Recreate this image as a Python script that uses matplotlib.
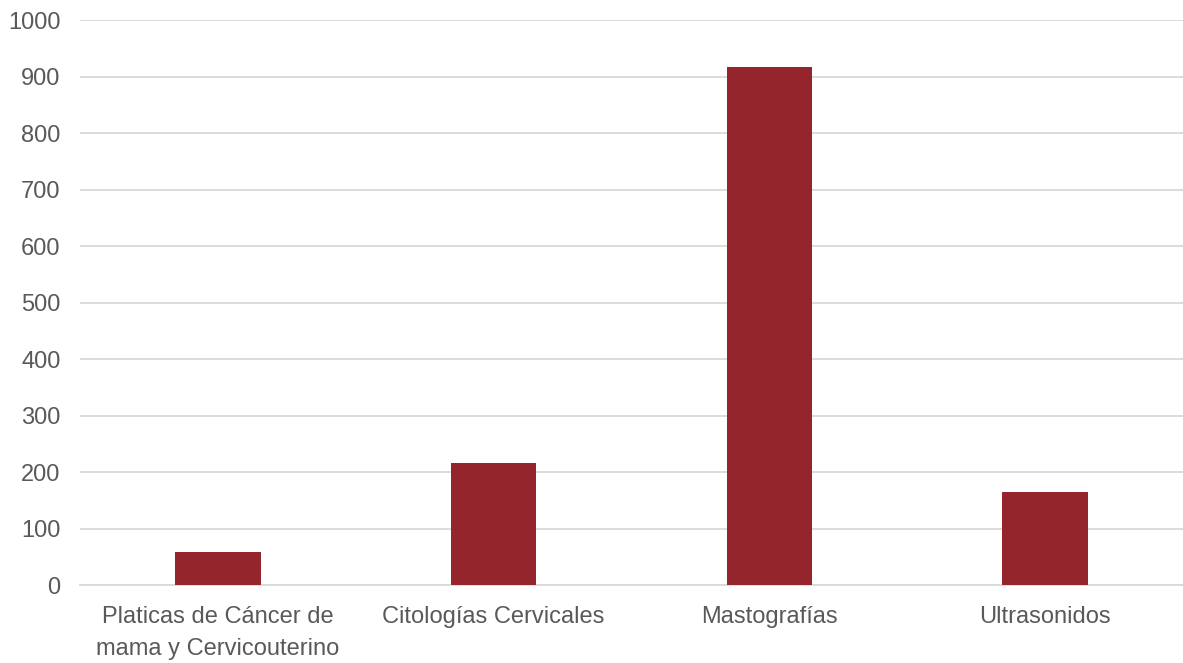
import matplotlib
matplotlib.use("Agg")
import matplotlib.pyplot as plt

# datos
categorias = ["Platicas de Cáncer de\nmama y Cervicouterino", "Citologías Cervicales",
              "Mastografías", "Ultrasonidos"]
valores = [58, 216, 916, 164]

plt.rcParams['font.family'] = ['Liberation Sans', 'DejaVu Sans']

fig = plt.figure(figsize=(11.83, 6.63), dpi=100, facecolor='w')
ax = fig.add_axes([0.0676, 0.1176, 0.9324, 0.8522])

x = range(len(categorias))
ax.bar(x, valores, width=0.31, color='#95252D', zorder=3)

ax.set_xlim(-0.5, 3.5)
ax.set_ylim(0, 1000)
ax.set_yticks(range(0, 1001, 100))
ax.set_xticks(list(x))
ax.set_xticklabels(categorias, linespacing=1.6)

ax.grid(axis='y', color='#d9d9d9', lw=1.3, zorder=0)
ax.tick_params(axis='both', length=0, labelsize=17, colors='#595959')
ax.tick_params(axis='x', pad=15)
ax.tick_params(axis='y', pad=14)

for spine in ('top', 'right', 'left'):
    ax.spines[spine].set_visible(False)
ax.spines['bottom'].set_color('#d9d9d9')
ax.spines['bottom'].set_linewidth(1.3)

fig.savefig('out.png', dpi=100)
